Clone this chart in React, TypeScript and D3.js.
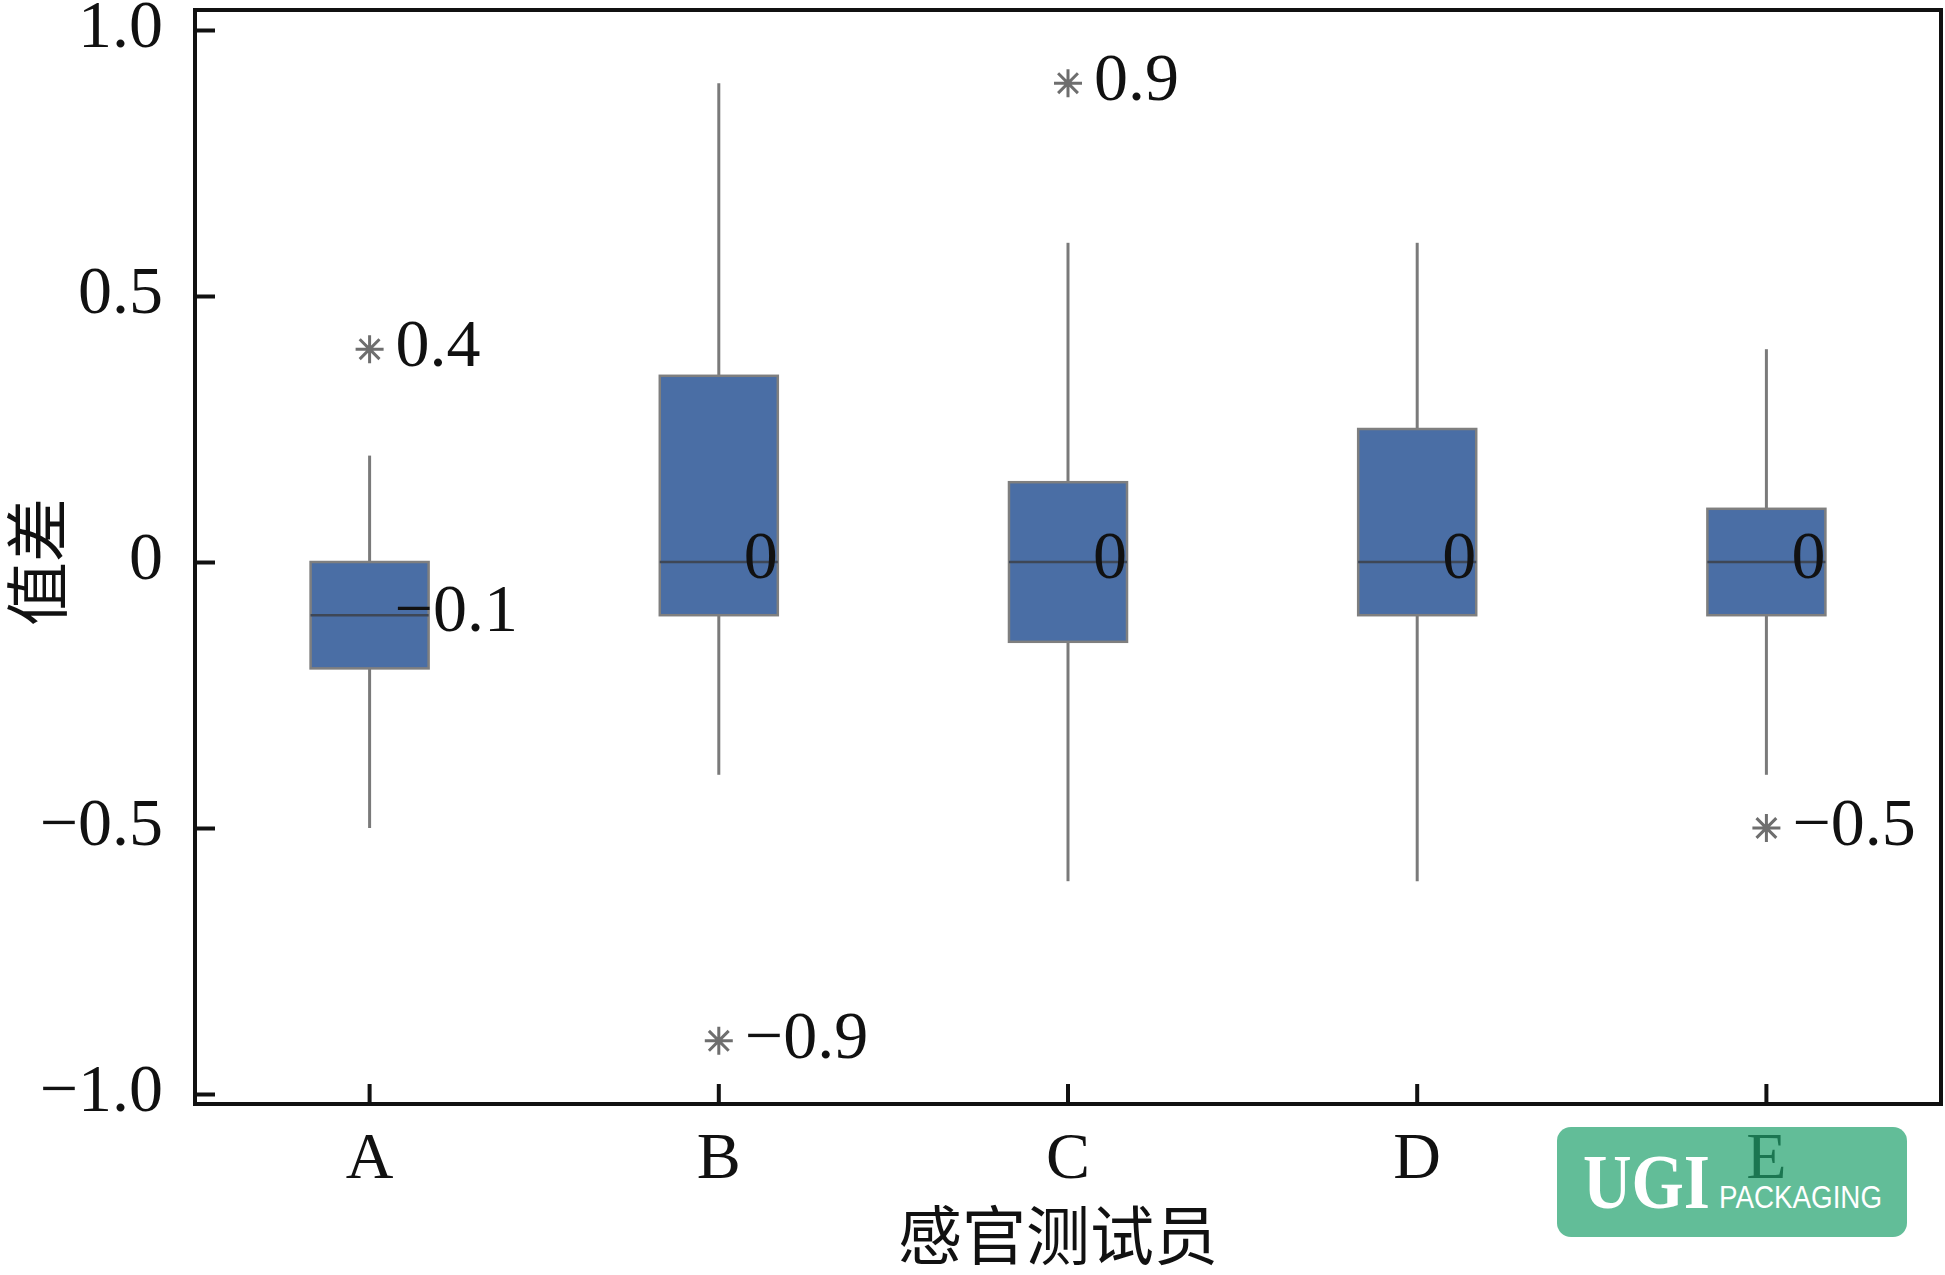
import * as d3 from "d3";
import { useEffect, useRef } from "react";

// sensory testers and box statistics (value differences)
const testers = ["A", "B", "C", "D", "E"];
const whiskerLow = [-0.5, -0.4, -0.6, -0.6, -0.4];
const q1 = [-0.2, -0.1, -0.15, -0.1, -0.1];
const medians = [-0.1, 0, 0, 0, 0];
const q3 = [0, 0.35, 0.15, 0.25, 0.1];
const whiskerHigh = [0.2, 0.9, 0.6, 0.6, 0.4];

const outlierTesters = ["A", "B", "C", "E"];
const outlierValues = [0.4, -0.9, 0.9, -0.5];

const yTicks = [-1, -0.5, 0, 0.5, 1];

const size = { x: 1945, y: 1275 };
const plot = { left: 195, right: 1941, top: 10, bottom: 1104 };

const serif = "'Liberation Serif', 'Times New Roman', serif";
const cjk = "'Noto Sans CJK SC', sans-serif";

const fmt = (v: number) => (v === 0 ? "0" : d3.format(".1f")(v));

export default function App() {
    const xAxisRef = useRef<SVGGElement>(null);
    const yAxisRef = useRef<SVGGElement>(null);

    const x = d3.scaleBand(testers, [plot.left, plot.right]);
    const y = d3.scaleLinear([-1, 1], [1094, 30]);

    const cx = (t: string) => (x(t) as number) + x.bandwidth() / 2;
    const boxW = x.bandwidth() * 0.338;

    // 8-arm asterisk marker
    const star = d3.path();
    const r = 14;
    for (let k = 0; k < 4; k++) {
        const a = (k * Math.PI) / 4;
        star.moveTo(-r * Math.cos(a), -r * Math.sin(a));
        star.lineTo(r * Math.cos(a), r * Math.sin(a));
    }

    useEffect(() => {
        const yAxis = d3.select(yAxisRef.current!);
        yAxis.call(
            d3.axisLeft(y).tickValues(yTicks).tickSize(-20).tickSizeOuter(0).tickPadding(32).tickFormat((d) => fmt(d as number))
        );
        yAxis.select(".domain").remove();
        yAxis.selectAll(".tick line").attr("stroke", "#111").attr("stroke-width", 4);
        yAxis.selectAll(".tick text")
            .attr("font-family", serif)
            .attr("font-size", 68)
            .attr("fill", "#111")
            .attr("dy", "0.24em");

        const xAxis = d3.select(xAxisRef.current!);
        xAxis.call(d3.axisBottom(x).tickSize(-20).tickSizeOuter(0).tickPadding(27));
        xAxis.select(".domain").remove();
        xAxis.selectAll(".tick line").attr("stroke", "#111").attr("stroke-width", 4);
        xAxis.selectAll(".tick text")
            .attr("font-family", serif)
            .attr("font-size", 66)
            .attr("fill", "#111");
    }, []);

    return (
        <svg
            width={size.x}
            height={size.y}
            viewBox={`0 0 ${size.x} ${size.y}`}
            style={{ position: "absolute", left: 0, top: 0, background: "#fff" }}
        >
            <g id="boxes">
                {testers.map((t, i) => {
                    const c = cx(t);
                    return (
                        <g key={t}>
                            <line x1={c} x2={c} y1={y(whiskerHigh[i])} y2={y(q3[i])} stroke="#7a7a7a" strokeWidth={3} />
                            <line x1={c} x2={c} y1={y(q1[i])} y2={y(whiskerLow[i])} stroke="#7a7a7a" strokeWidth={3} />
                            <rect
                                x={c - boxW / 2}
                                y={y(q3[i])}
                                width={boxW}
                                height={y(q1[i]) - y(q3[i])}
                                fill="#4a6ea5"
                                stroke="#7f7f7f"
                                strokeWidth={2.5}
                            />
                            <line
                                x1={c - boxW / 2}
                                x2={c + boxW / 2}
                                y1={y(medians[i])}
                                y2={y(medians[i])}
                                stroke="#3e4756"
                                strokeWidth={2.5}
                            />
                            <text
                                x={c + 25}
                                y={y(medians[i]) + 16}
                                fontFamily={serif}
                                fontSize={68}
                                fill="#111"
                            >
                                {fmt(medians[i])}
                            </text>
                        </g>
                    );
                })}
            </g>
            <g id="outliers">
                {outlierTesters.map((t, i) => (
                    <g key={t}>
                        <path
                            d={star.toString()}
                            transform={`translate(${cx(t)}, ${y(outlierValues[i])})`}
                            stroke="#6e6e6e"
                            strokeWidth={3}
                            fill="none"
                        />
                        <text
                            x={cx(t) + 26}
                            y={y(outlierValues[i]) + 17}
                            fontFamily={serif}
                            fontSize={68}
                            fill="#111"
                        >
                            {fmt(outlierValues[i])}
                        </text>
                    </g>
                ))}
            </g>
            <rect
                x={plot.left}
                y={plot.top}
                width={plot.right - plot.left}
                height={plot.bottom - plot.top}
                fill="none"
                stroke="#111"
                strokeWidth={4}
            />
            <g ref={yAxisRef} transform={`translate(${plot.left}, 0)`} />
            <g ref={xAxisRef} transform={`translate(0, ${plot.bottom})`} />
            <text
                transform={`translate(33, ${(y(1) + y(-1)) / 2}) rotate(-90)`}
                textAnchor="middle"
                dominantBaseline="central"
                fontFamily={cjk}
                fontSize={64}
                fill="#111"
            >
                值差
            </text>
            <text
                x={(plot.left + plot.right) / 2 - 10}
                y={1259}
                textAnchor="middle"
                fontFamily={cjk}
                fontSize={64}
                fill="#111"
            >
                感官测试员
            </text>
            <g id="logo">
                <rect x={1557} y={1127} width={350} height={110} rx={14} fill="#20a16c" opacity={0.7} />
                <text x={1583} y={1208} fontFamily={serif} fontWeight="bold" fontSize={78} fill="#fff" textLength={127} lengthAdjust="spacingAndGlyphs">
                    UGI
                </text>
                <text x={1719} y={1208} fontFamily="'Liberation Sans', sans-serif" fontSize={31} fill="#fff" textLength={163} lengthAdjust="spacingAndGlyphs">
                    PACKAGING
                </text>
            </g>
        </svg>
    );
}
